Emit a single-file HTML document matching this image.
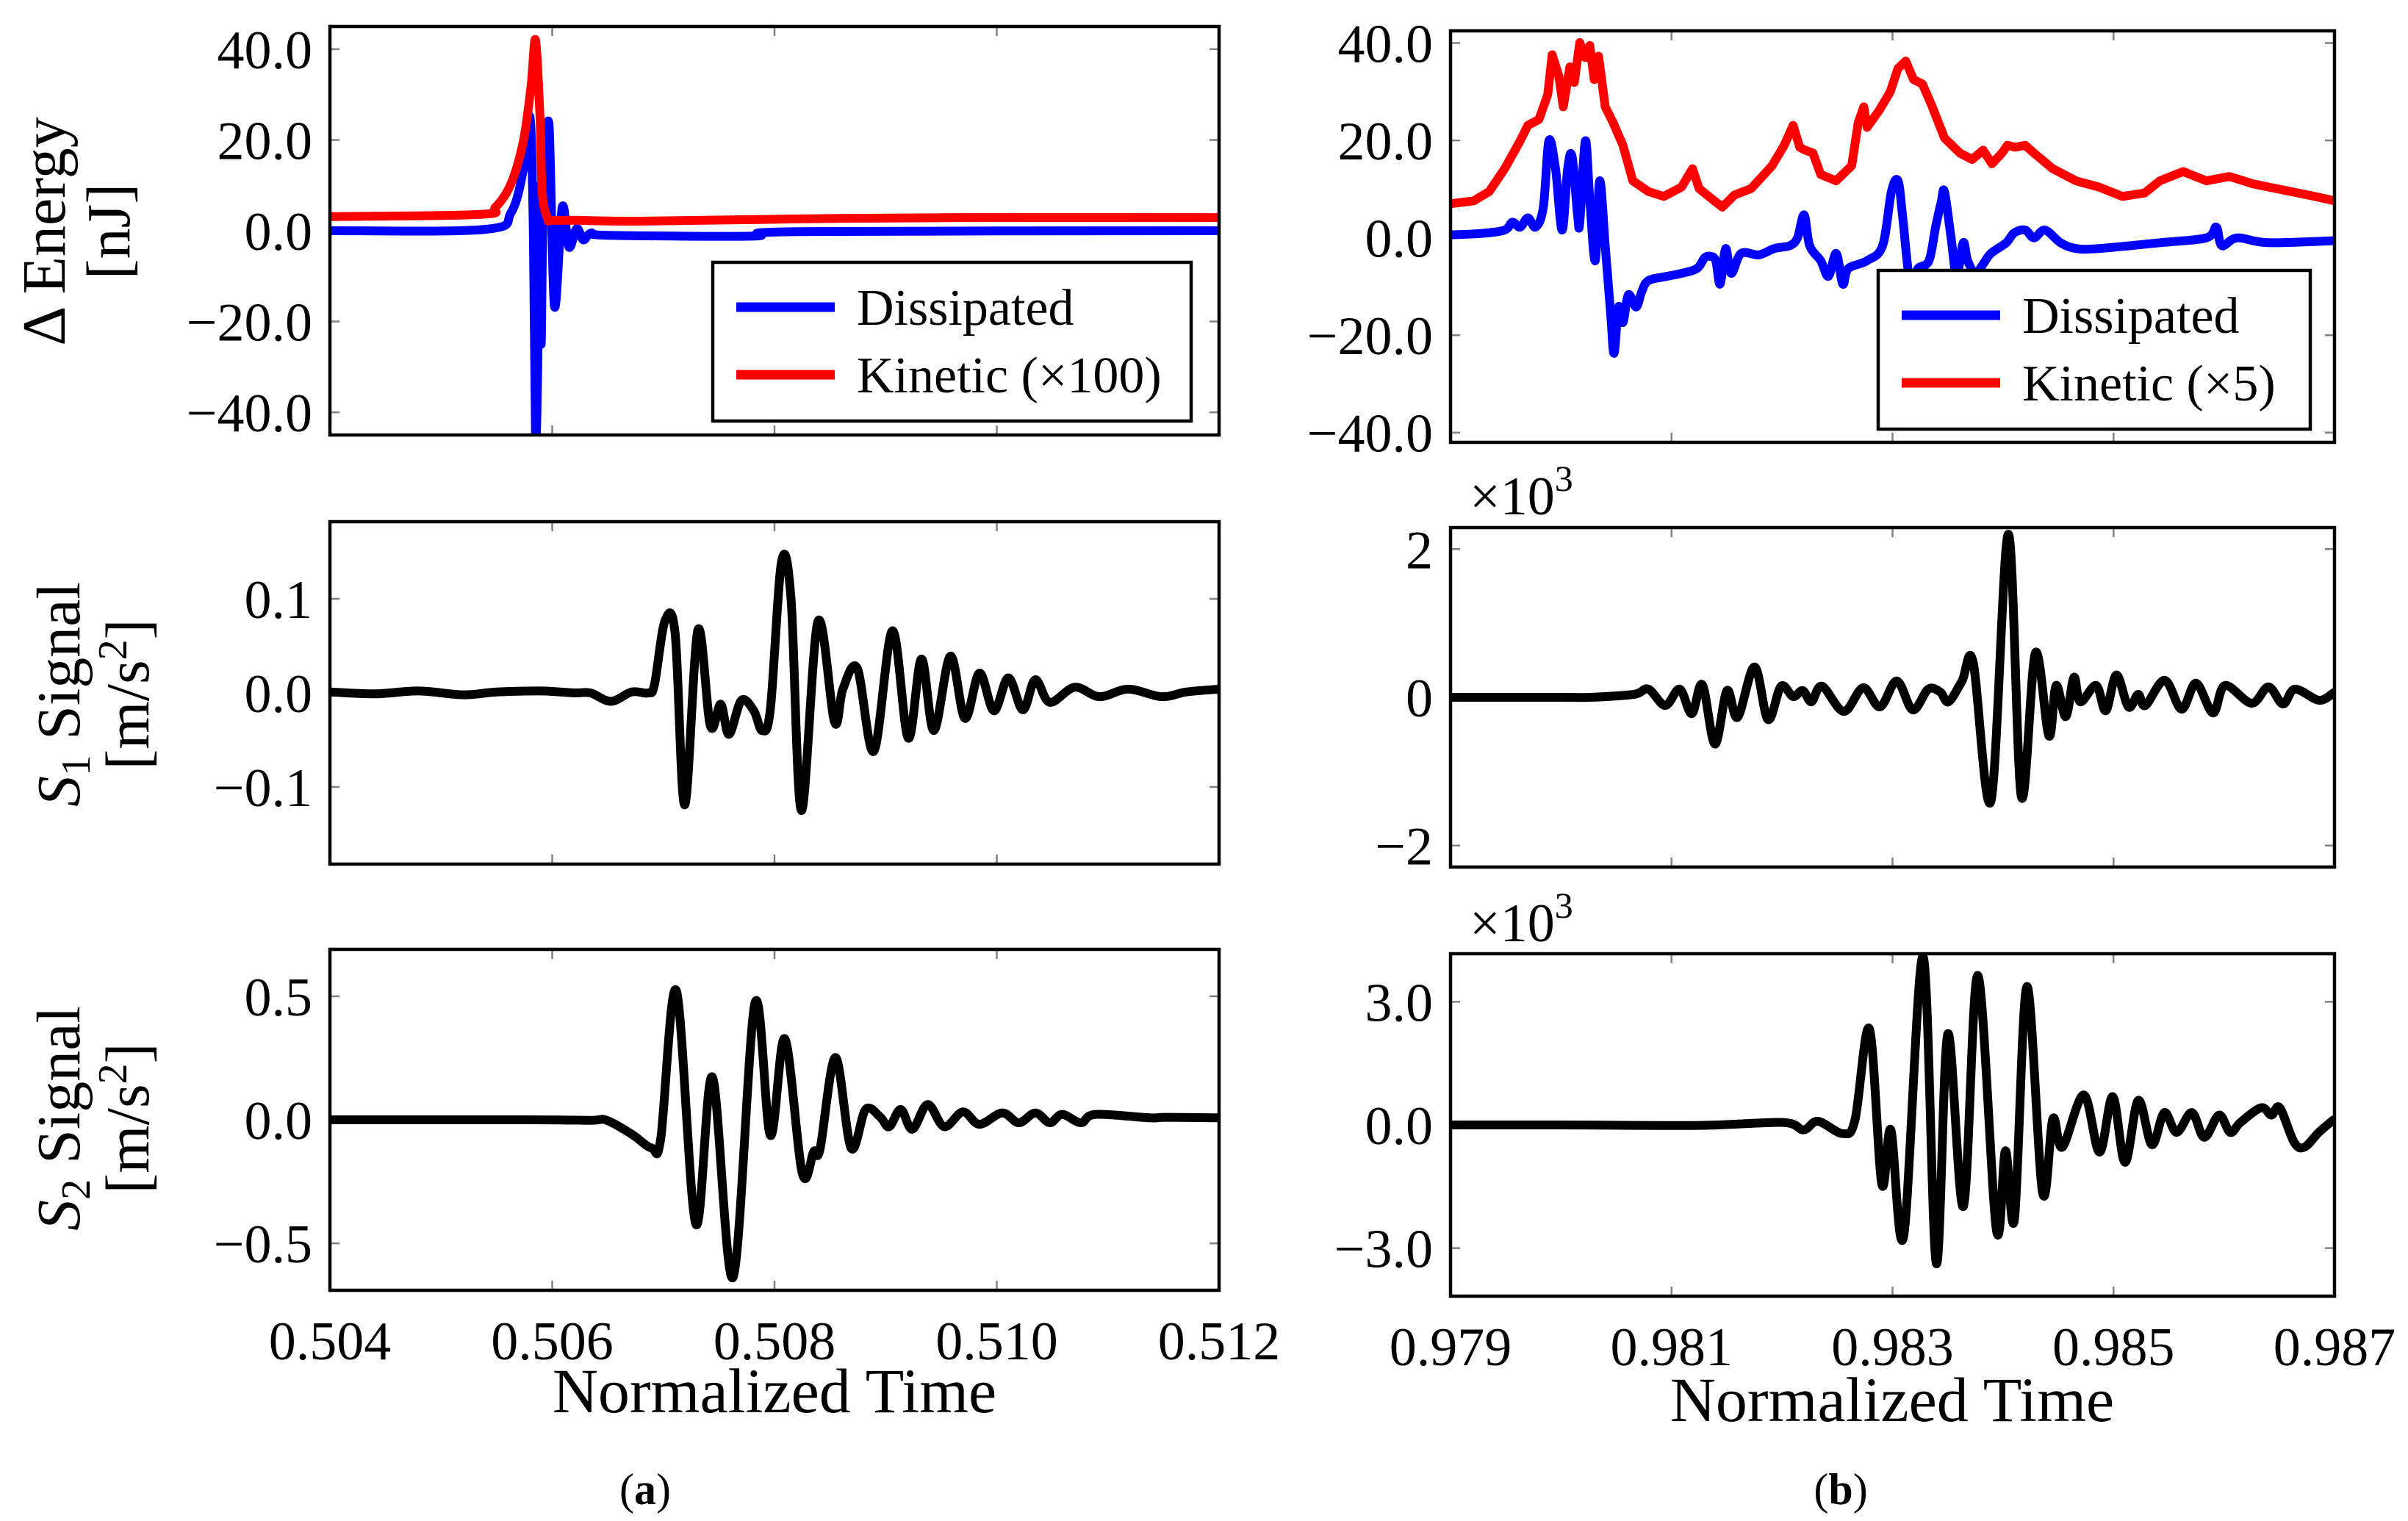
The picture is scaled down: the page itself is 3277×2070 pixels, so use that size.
<!DOCTYPE html>
<html><head><meta charset="utf-8"><style>
html,body{margin:0;padding:0;background:#fff;}
svg{display:block;}
text{font-family:"Liberation Serif",serif;fill:#000;}
</style></head><body>
<svg id="fig" width="3277" height="2070" viewBox="0 0 3277 2070" xmlns="http://www.w3.org/2000/svg">
<defs></defs>
<g id="root"></g>
<text x="1054" y="1922" font-size="86" text-anchor="middle">Normalized Time</text>
<text x="2575" y="1934" font-size="86" text-anchor="middle">Normalized Time</text>
<text x="878" y="2047" font-size="60" text-anchor="middle">(<tspan font-weight="bold">a</tspan>)</text>
<text x="2505" y="2047" font-size="60" text-anchor="middle">(<tspan font-weight="bold">b</tspan>)</text>
<g transform="translate(0,315) rotate(-90)" font-size="84">
<text x="0" y="88" text-anchor="middle">Δ Energy</text>
<text x="0" y="176" text-anchor="middle">[nJ]</text>
</g>
<g transform="translate(0,945) rotate(-90)" font-size="84">
<text x="0" y="108" text-anchor="middle"><tspan font-style="italic">S</tspan><tspan font-size="56" dy="14">1</tspan><tspan dy="-14"> Signal</tspan></text>
<text x="0" y="202" text-anchor="middle">[m/s<tspan font-size="56" dy="-30">2</tspan><tspan dy="30">]</tspan></text>
</g>
<g transform="translate(0,1522) rotate(-90)" font-size="84">
<text x="0" y="108" text-anchor="middle"><tspan font-style="italic">S</tspan><tspan font-size="56" dy="14">2</tspan><tspan dy="-14"> Signal</tspan></text>
<text x="0" y="202" text-anchor="middle">[m/s<tspan font-size="56" dy="-30">2</tspan><tspan dy="30">]</tspan></text>
</g>
<text x="2000" y="700" font-size="74">×10<tspan font-size="50" dy="-32">3</tspan></text>
<text x="2000" y="1281" font-size="74">×10<tspan font-size="50" dy="-32">3</tspan></text>
</svg>
<script>
// ---- data: panel a ----
const aXTicks = [0.504, 0.506, 0.508, 0.510, 0.512];
const aXTickLabels = ["0.504", "0.506", "0.508", "0.510", "0.512"];
const bXTicks = [0.979, 0.981, 0.983, 0.985, 0.987];
const bXTickLabels = ["0.979", "0.981", "0.983", "0.985", "0.987"];
const energyYTicks = [40, 20, 0, -20, -40];
const energyYTickLabels = ["40.0", "20.0", "0.0", "−20.0", "−40.0"];
const s1aYTicks = [0.1, 0, -0.1];
const s1aYTickLabels = ["0.1", "0.0", "−0.1"];
const s2aYTicks = [0.5, 0, -0.5];
const s2aYTickLabels = ["0.5", "0.0", "−0.5"];
const s1bYTicks = [2, 0, -2];
const s1bYTickLabels = ["2", "0", "−2"];
const s2bYTicks = [3, 0, -3];
const s2bYTickLabels = ["3.0", "0.0", "−3.0"];

const aDissT = [0.504,0.5054,0.50563,0.50574,0.5058,0.50583,0.50585,0.50587,0.50589,0.5059,0.50592,0.50597,0.50602,0.50609,0.50615,0.50622,0.50628,0.50635,0.5065,0.5078,0.5082,0.512];
const aDissV = [0,0.3,4,13.5,25,0,-45,-30,10,-25,5,23.6,-16.6,5.2,-3.6,0.5,-2,-0.5,-1,-1.2,-0.2,0];
const aKinT = [0.504,0.50535,0.50549,0.50563,0.50574,0.50581,0.50585,0.50589,0.50591,0.50596,0.50599,0.50621,0.50679,0.50823,0.50967,0.512];
const aKinV = [3.1,3.6,5.2,10.4,19.7,32,42,25,8.3,2.6,2.3,2.3,2.1,2.6,2.9,2.9];

const aS1T = [0.504,0.5044,0.5048,0.5052,0.5055,0.5059,0.5062,0.506343,0.506529,0.506715,0.506864,0.50692,0.507013,0.507106,0.507192,0.507311,0.507423,0.507516,0.50759,0.507702,0.507814,0.507888,0.507963,0.508063,0.508149,0.508242,0.508391,0.50854,0.508615,0.508745,0.508894,0.509061,0.509203,0.509322,0.509434,0.509583,0.509713,0.509844,0.509974,0.510104,0.510235,0.510346,0.510477,0.5107,0.510924,0.511184,0.511482,0.511706,0.512];
const aS1V = [0.001,-0.001,0.002,-0.002,0.001,0.002,0,0,-0.009,0.001,0,0.009,0.076,0.063,-0.119,0.067,-0.035,-0.012,-0.044,-0.008,-0.019,-0.040,-0.017,0.139,0.1,-0.125,0.076,-0.031,0.004,0.026,-0.062,0.066,-0.048,0.036,-0.040,0.039,-0.027,0.021,-0.019,0.016,-0.018,0.014,-0.010,0.006,-0.004,0.004,-0.004,0.001,0.004];

const aS2T = [0.504,0.5058,0.506343,0.50649,0.506715,0.506894,0.506976,0.507117,0.507292,0.507441,0.507627,0.507824,0.507963,0.508093,0.508250,0.508354,0.508410,0.508548,0.508689,0.508820,0.508950,0.509032,0.509136,0.509240,0.509378,0.509527,0.509695,0.509844,0.510049,0.510198,0.510347,0.510477,0.510589,0.510757,0.510887,0.511372,0.511521,0.512];
const aS2V = [0,0,-0.002,-0.002,-0.058,-0.114,-0.078,0.523,-0.422,0.173,-0.638,0.473,-0.063,0.328,-0.217,-0.128,-0.118,0.252,-0.114,0.042,0.012,-0.028,0.042,-0.038,0.062,-0.028,0.032,-0.018,0.028,-0.012,0.028,-0.012,0.022,-0.012,0.022,0.008,0.010,0.008];

// ---- data: panel b ----
const bKinT = [0.979,0.97921,0.97935,0.97949,0.97963,0.9797,0.9798,0.97988,0.97992,0.97998,0.98002,0.98008,0.98012,0.98017,0.98022,0.98026,0.9803,0.98034,0.9804,0.98047,0.98056,0.98065,0.98079,0.98093,0.98109,0.98119,0.98125,0.98137,0.98146,0.98157,0.98172,0.98191,0.98202,0.9821,0.98216,0.98221,0.98228,0.98235,0.98249,0.98263,0.98269,0.98274,0.98277,0.98288,0.98298,0.98305,0.98312,0.98319,0.98327,0.98336,0.98347,0.98361,0.98372,0.98382,0.9839,0.98399,0.98404,0.98411,0.9842,0.98428,0.98445,0.98466,0.98487,0.98508,0.98528,0.98542,0.98563,0.98584,0.98605,0.98626,0.98654,0.98682,0.987];
const bKinV = [7.0,7.6,9.5,14.2,19.9,23.1,24.3,29.4,37.6,33.2,26.9,35.1,31.9,40.1,37.0,39.5,32.5,37.3,26.9,23.7,19.0,11.7,9.5,8.5,10.4,14.2,10.1,7.9,6.3,8.8,10.1,14.8,19.0,23.1,18.6,18.0,17.4,13.0,11.7,14.8,23.7,26.9,22.7,26.2,30.0,34.8,36.3,32.5,31.6,26.9,20.5,17.4,16.1,18.0,15.2,17.4,19.0,18.6,19.0,17.4,14.2,11.7,10.4,8.5,9.2,11.7,13.6,11.7,12.6,11.1,9.8,8.5,7.6];
const bDissT = [0.979,0.97928,0.97949,0.97956,0.97963,0.9797,0.97977,0.97984,0.97989,0.97995,0.98001,0.98006,0.9801,0.98015,0.98017,0.98022,0.98026,0.98031,0.98035,0.9804,0.98045,0.98048,0.98052,0.98056,0.98061,0.98068,0.98073,0.98079,0.98096,0.98109,0.98123,0.9813,0.98135,0.9814,0.98144,0.98149,0.98154,0.98163,0.98179,0.98193,0.98207,0.98214,0.9822,0.98225,0.98235,0.98242,0.98249,0.98255,0.9826,0.98277,0.98291,0.98299,0.98305,0.98309,0.98316,0.98323,0.98333,0.98339,0.98344,0.98347,0.98353,0.98358,0.98364,0.98368,0.98375,0.98382,0.98389,0.98403,0.9841,0.9842,0.98428,0.98438,0.98452,0.98466,0.98487,0.98542,0.98584,0.98593,0.98598,0.98612,0.9864,0.987];
const bDissV = [0.6,0.9,1.6,3.2,2.2,4.1,2.2,6.3,19.9,14.2,1.6,14.2,16.7,4.7,3.2,19.9,7.9,-4.7,11.7,-1.6,-15.8,-23.7,-14.2,-17.4,-11.7,-14.2,-11.1,-8.8,-7.9,-7.3,-6.3,-4.1,-3.8,-4.7,-9.5,-2.2,-7.3,-3.2,-3.5,-2.2,-1.6,0.0,4.7,-1.6,-4.7,-7.9,-3.2,-9.5,-6.3,-4.7,-1.6,9.5,11.7,4.7,-9.5,-6.3,-4.7,2.2,7.3,9.5,0.0,-7.9,-1.0,-4.7,-7.3,-5.4,-3.2,-1.0,1.0,1.6,0.0,1.6,-1.0,-2.2,-2.2,-1.0,0.0,2.2,-1.6,0.0,-1.0,-0.6];

const bS1T = [0.979,0.98,0.980266,0.980659,0.98079,0.980943,0.981074,0.981183,0.981279,0.981393,0.981502,0.981598,0.981751,0.981873,0.981991,0.9821,0.982188,0.982266,0.982362,0.982559,0.982734,0.982886,0.983039,0.983183,0.983323,0.983432,0.983507,0.983629,0.983729,0.983891,0.984048,0.984166,0.984293,0.984415,0.98448,0.984568,0.984642,0.984699,0.984843,0.98493,0.985026,0.985135,0.985223,0.985288,0.985463,0.985616,0.985747,0.9859,0.986009,0.986249,0.986402,0.986533,0.986642,0.98686,0.986991];
const bS1V = [0,0,0,0.04,0.11,-0.11,0.11,-0.22,0.17,-0.63,0.09,-0.27,0.41,-0.30,0.15,0.01,0.09,-0.06,0.15,-0.19,0.13,-0.13,0.22,-0.17,0.11,0.07,-0.06,0.22,0.48,-1.40,2.20,-1.34,0.60,-0.52,0.16,-0.26,0.27,-0.06,0.16,-0.18,0.30,-0.13,0.04,-0.11,0.23,-0.16,0.19,-0.21,0.16,-0.08,0.14,-0.09,0.11,-0.04,0.06];

const bS2T = [0.979,0.980,0.981261,0.982007,0.982194,0.982325,0.982549,0.98266,0.982791,0.982903,0.982985,0.983101,0.983276,0.983396,0.9835,0.983642,0.983772,0.98394,0.984022,0.984104,0.984216,0.984358,0.984451,0.984537,0.984731,0.984873,0.984993,0.985104,0.985224,0.985347,0.985459,0.985571,0.985709,0.985821,0.985955,0.986056,0.986149,0.986336,0.986429,0.986504,0.986634,0.986728,0.986858,0.986989];
const bS2V = [0,0,-0.01,0.06,-0.12,0.09,-0.21,0.12,2.34,-1.44,-0.12,-2.71,4.10,-3.37,2.22,-1.98,3.64,-2.56,-0.63,-2.28,3.37,-1.65,0.15,-0.54,0.73,-0.66,0.69,-0.91,0.60,-0.48,0.30,-0.18,0.30,-0.30,0.24,-0.18,0.06,0.42,0.24,0.42,-0.42,-0.54,-0.18,0.12];

const NS = "http://www.w3.org/2000/svg";
const root = document.getElementById("root");
function mk(tag, parent) { const e = document.createElementNS(NS, tag); parent.appendChild(e); return e; }

function pathD(pts, smooth) {
  let d = "M" + pts[0][0].toFixed(1) + "," + pts[0][1].toFixed(1);
  for (let i = 1; i < pts.length; i++) {
    const p1 = pts[i - 1], p2 = pts[i];
    if (!smooth) { d += "L" + p2[0].toFixed(1) + "," + p2[1].toFixed(1); continue; }
    const p0 = pts[i - 2] || p1, p3 = pts[i + 1] || p2;
    const c1x = p1[0] + (p2[0] - p0[0]) / 6, c1y = p1[1] + (p2[1] - p0[1]) / 6;
    const c2x = p2[0] - (p3[0] - p1[0]) / 6, c2y = p2[1] - (p3[1] - p1[1]) / 6;
    d += "C" + c1x.toFixed(1) + "," + c1y.toFixed(1) + " " + c2x.toFixed(1) + "," + c2y.toFixed(1) + " " + p2[0].toFixed(1) + "," + p2[1].toFixed(1);
  }
  return d;
}

function panel(id, L, T, R, B, xmin, xmax, ymin, ymax, xt, xtl, showXLabels, yt, ytl, series) {
  const g = mk("g", root);
  
  
  const sx = v => L + (v - xmin) / (xmax - xmin) * (R - L);
  const sy = v => B - (v - ymin) / (ymax - ymin) * (B - T);
  const cp = mk("clipPath", document.querySelector("defs"));
  cp.setAttribute("id", "clip-" + id);
  const cr = mk("rect", cp);
  cr.setAttribute("x", L); cr.setAttribute("y", T); cr.setAttribute("width", R - L); cr.setAttribute("height", B - T);
  xt.forEach((v, i) => {
    const x = sx(v);
    [[T, T + 13], [B, B - 13]].forEach(([a, b]) => {
      const t = mk("line", g);
      
      
      t.setAttribute("x1", x); t.setAttribute("x2", x); t.setAttribute("y1", a); t.setAttribute("y2", b);
      t.setAttribute("stroke", "#808080"); t.setAttribute("stroke-width", "2.5");
    });
    if (showXLabels) {
      const tx = mk("text", g);
      
      
      tx.setAttribute("x", x); tx.setAttribute("y", B + 94); tx.setAttribute("font-size", "74"); tx.setAttribute("text-anchor", "middle");
      tx.textContent = xtl[i];
    }
  });
  yt.forEach((v, i) => {
    const y = sy(v);
    [[L, L + 13], [R, R - 13]].forEach(([a, b]) => {
      const t = mk("line", g);
      
      
      t.setAttribute("x1", a); t.setAttribute("x2", b); t.setAttribute("y1", y); t.setAttribute("y2", y);
      t.setAttribute("stroke", "#808080"); t.setAttribute("stroke-width", "2.5");
    });
    const tx = mk("text", g);
    
    
    tx.setAttribute("x", L - 24); tx.setAttribute("y", y + 26); tx.setAttribute("font-size", "74"); tx.setAttribute("text-anchor", "end");
    tx.textContent = ytl[i];
  });
  series.forEach(s => {
    const p = mk("path", g);
    
    
    const pts = s.t.map((tv, i) => [sx(tv), sy(s.v[i])]);
    p.setAttribute("d", pathD(pts, s.smooth));
    p.setAttribute("fill", "none"); p.setAttribute("stroke", s.color); p.setAttribute("stroke-width", "12");
    p.setAttribute("stroke-linejoin", "round"); p.setAttribute("stroke-linecap", "round");
    p.setAttribute("clip-path", "url(#clip-" + id + ")");
  });
  const fr = mk("rect", g);
  
  
  fr.setAttribute("x", L); fr.setAttribute("y", T); fr.setAttribute("width", R - L); fr.setAttribute("height", B - T);
  fr.setAttribute("fill", "none"); fr.setAttribute("stroke", "#000"); fr.setAttribute("stroke-width", "4.5");
  return g;
}

function legend(id, x, y, w, h, entries) {
  const g = mk("g", root);
  
  
  const r = mk("rect", g);
  r.setAttribute("x", x); r.setAttribute("y", y); r.setAttribute("width", w); r.setAttribute("height", h);
  r.setAttribute("fill", "#fff"); r.setAttribute("stroke", "#000"); r.setAttribute("stroke-width", "4.5");
  entries.forEach((e, i) => {
    const ly = y + 61 + i * 92;
    const ln = mk("line", g);
    
    
    ln.setAttribute("x1", x + 32); ln.setAttribute("x2", x + 166); ln.setAttribute("y1", ly); ln.setAttribute("y2", ly);
    ln.setAttribute("stroke", e.color); ln.setAttribute("stroke-width", "13");
    const tx = mk("text", g);
    
    
    tx.setAttribute("x", x + 196); tx.setAttribute("y", ly + 24); tx.setAttribute("font-size", "70");
    tx.textContent = e.label;
  });
}

panel("panel-a-energy", 449, 36, 1659, 592, 0.504, 0.512, -45, 45, aXTicks, aXTickLabels, false, energyYTicks, energyYTickLabels,
  [{name: "dissipated-line-a", t: aDissT, v: aDissV, color: "#0000ff", smooth: true}, {name: "kinetic-line-a", t: aKinT, v: aKinV, color: "#ff0000", smooth: true}]);
panel("panel-a-s1", 449, 710, 1659, 1176, 0.504, 0.512, -0.182, 0.182, aXTicks, aXTickLabels, false, s1aYTicks, s1aYTickLabels,
  [{name: "s1-signal-line-a", t: aS1T, v: aS1V, color: "#000", smooth: true}]);
panel("panel-a-s2", 449, 1292, 1659, 1756, 0.504, 0.512, -0.69, 0.69, aXTicks, aXTickLabels, true, s2aYTicks, s2aYTickLabels,
  [{name: "s2-signal-line-a", t: aS2T, v: aS2V, color: "#000", smooth: true}]);
panel("panel-b-energy", 1974, 42, 3177, 602, 0.979, 0.987, -42, 42.5, bXTicks, bXTickLabels, false, energyYTicks, energyYTickLabels,
  [{name: "kinetic-line-b", t: bKinT, v: bKinV, color: "#ff0000", smooth: false}, {name: "dissipated-line-b", t: bDissT, v: bDissV, color: "#0000ff", smooth: true}]);
panel("panel-b-s1", 1974, 718, 3177, 1180, 0.979, 0.987, -2.29, 2.29, bXTicks, bXTickLabels, false, s1bYTicks, s1bYTickLabels,
  [{name: "s1-signal-line-b", t: bS1T, v: bS1V, color: "#000", smooth: true}]);
panel("panel-b-s2", 1974, 1298, 3177, 1764, 0.979, 0.987, -4.17, 4.17, bXTicks, bXTickLabels, true, s2bYTicks, s2bYTickLabels,
  [{name: "s2-signal-line-b", t: bS2T, v: bS2V, color: "#000", smooth: true}]);

legend("legend-a", 970, 357, 651, 216, [{label: "Dissipated", color: "#0000ff"}, {label: "Kinetic (×100)", color: "#ff0000"}]);
legend("legend-b", 2556, 368, 588, 216, [{label: "Dissipated", color: "#0000ff"}, {label: "Kinetic (×5)", color: "#ff0000"}]);
</script>
</body></html>
